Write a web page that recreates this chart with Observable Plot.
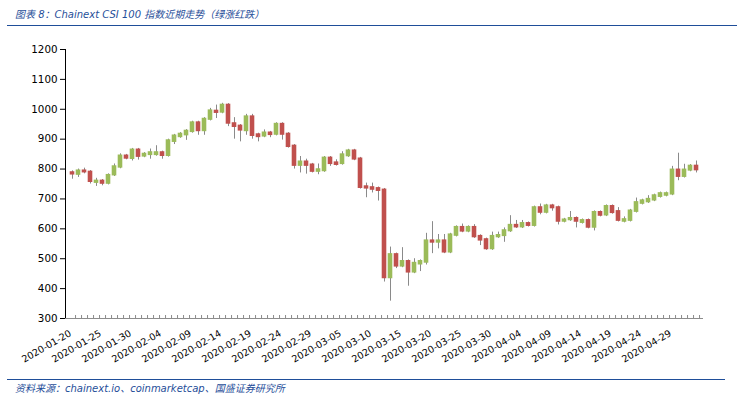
<!DOCTYPE html>
<html>
<head>
<meta charset="utf-8">
<script src="https://cdn.jsdelivr.net/npm/d3@7"></script>
<script src="https://cdn.jsdelivr.net/npm/@observablehq/plot@0.6"></script>
<style>
  html, body { margin: 0; padding: 0; background: #fff; }
  #wrap { position: relative; width: 739px; height: 395px; overflow: hidden; background: #fff; }
  #chart { position: absolute; left: 0; top: 0; }
  .cap { position: absolute; font-family: "DejaVu Sans", "Noto Sans CJK SC", sans-serif; font-style: italic; font-size: 10px; color: #1f4e99; white-space: nowrap; }
  .hr { position: absolute; height: 0; border-top: 1.5px solid #1f4e99; }
</style>
</head>
<body>
<div id="wrap">
  <div id="chart"></div>
  <div class="cap" id="title" style="left:15px; top:6px;"></div>
  <div class="hr" style="left:7px; width:730px; top:25px;"></div>
  <div class="hr" style="left:7px; width:718px; top:379px;"></div>
  <div class="cap" id="source" style="left:15px; top:380px;"></div>
</div>
<script>
const titleText = "图表 8：Chainext CSI 100 指数近期走势（绿涨红跌）";
const sourceText = "资料来源：chainext.io、coinmarketcap、国盛证券研究所";

const startDate = "2020-01-20";
const endDate = "2020-05-04"; // exclusive
const yTicks = [300, 400, 500, 600, 700, 800, 900, 1000, 1100, 1200];

const opens = [791,779,797,793,752,763,749,777,803,847,832,867,840,845,845,858,842,889,905,911,
  922,958,925,963,997,987,1017,955,947,925,978,918,907,924,913,953,920,880,809,827,
  817,789,791,840,824,815,841,864,837,744,741,738,733,433,517,472,494,452,479,485,
  563,552,563,519,575,608,589,608,578,567,530,570,574,590,615,603,621,608,674,652,
  680,674,622,627,638,618,631,602,658,643,678,661,622,625,655,682,687,693,705,709,
  713,800,772,793,813];
const closes = [780,797,787,755,763,749,782,811,847,833,867,839,853,858,858,842,898,914,920,930,
  958,925,970,998,986,1017,950,939,927,978,909,905,924,912,953,913,872,809,827,809,
  789,801,840,815,812,851,864,830,735,733,729,725,433,517,472,494,452,488,494,563,
  552,563,519,583,608,589,608,570,559,530,578,581,597,615,603,621,608,674,652,680,
  667,622,633,638,622,631,602,658,642,678,651,625,634,663,691,697,702,714,721,721,
  800,772,800,813,794];
const highs = [794,800,803,795,769,765,784,817,851,849,869,869,855,867,878,860,900,916,922,932,
  960,960,972,1003,1014,1020,1019,972,949,983,983,920,931,926,955,955,922,882,842,833,
  819,817,842,842,831,858,866,866,839,753,753,740,735,539,519,537,496,500,496,585,
  624,581,581,585,610,616,610,614,580,569,589,589,603,644,628,628,623,676,683,682,
  682,676,635,658,640,633,633,660,660,680,680,671,640,665,703,699,711,716,723,723,
  809,853,816,815,827];
const lows = [766,772,784,750,742,744,747,775,801,831,827,830,838,833,843,833,840,882,903,896,
  920,913,913,961,969,985,942,900,891,913,900,891,905,905,911,897,870,800,787,783,
  787,781,789,809,810,813,839,828,733,704,720,693,422,358,467,470,408,450,457,479,
  517,533,517,517,573,587,587,568,544,528,528,568,555,588,601,601,606,606,647,650,
  659,613,620,625,603,616,600,593,640,641,649,623,620,623,653,680,685,691,703,707,
  711,761,770,791,787];

const fmt = d3.utcFormat("%Y-%m-%d");
const dates = d3.utcDay.range(new Date(startDate), new Date(endDate)).map(fmt);
const data = dates.map((date, i) => ({
  date, open: opens[i], close: closes[i], high: highs[i], low: lows[i],
  up: closes[i] >= opens[i]
}));
const labelDates = dates.filter((d, i) => i % 5 === 0);

document.getElementById("title").textContent = titleText;
document.getElementById("source").textContent = sourceText;

const chart = Plot.plot({
  width: 739,
  height: 395,
  marginLeft: 65,
  marginRight: 36,
  marginTop: 49,
  marginBottom: 77,
  style: { fontFamily: "DejaVu Sans, sans-serif", fontSize: "10.3px", color: "#000", background: "transparent" },
  x: { type: "band", domain: dates, padding: 0, axis: null, label: null },
  y: { domain: [300, 1200], ticks: yTicks, tickFormat: d => String(d), tickSize: 5, tickPadding: 3, line: true, label: null },
  marks: [
    Plot.ruleY([300], { stroke: "#8c8c8c" }),
    Plot.axisX({ ticks: dates, tickSize: 3, dy: -3, dx: 3.04, stroke: "#8c8c8c", fill: "none", label: null }),
    Plot.axisX({ ticks: labelDates, tickSize: 0, tickPadding: 14, tickRotate: -30, fontSize: 9.5, dx: -2, fill: "#000", label: null }),
    Plot.ruleX(data, { x: "date", y1: "low", y2: "high", stroke: "#8a8a8a", strokeWidth: 1 }),
    Plot.barY(data, {
      x: "date", y1: "open", y2: "close",
      fill: d => d.up ? "#9bbb59" : "#c0504d",
      insetLeft: 0.7, insetRight: 0.7
    })
  ]
});
document.getElementById("chart").appendChild(chart);
</script>
</body>
</html>
